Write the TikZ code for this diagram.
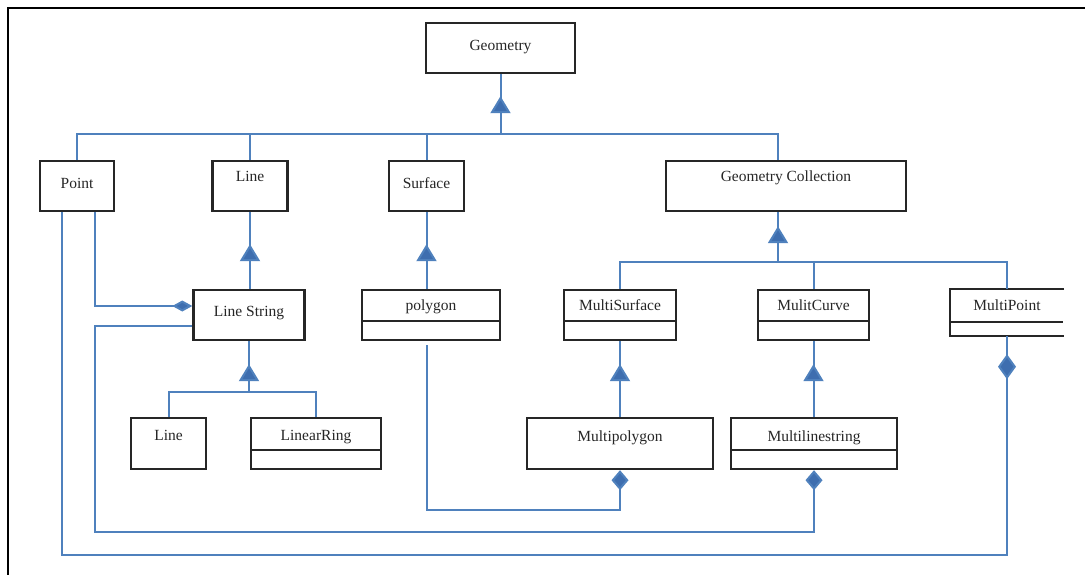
\documentclass[tikz,border=0pt]{standalone}
\usepackage{fontspec}
\setmainfont{Liberation Serif}
\usetikzlibrary{arrows.meta,decorations.markings}

\definecolor{umlblue}{RGB}{79,129,189}
\definecolor{tipblue}{RGB}{62,110,175}

\begin{document}
\begin{tikzpicture}[
  x=1pt, y=-1pt,
  font=\fontsize{15.5}{18}\selectfont,
  cls/.style={draw=black!85, line width=2.4pt, minimum width=#1, minimum height=50pt, inner sep=0pt, text height=11pt, text depth=6pt, text=black!85},
  uppertext/.style={text depth=#1},
  divided/.style={path picture={\draw[line width=1.6pt, black!85] ([yshift=-#1]path picture bounding box.north west) -- ([yshift=-#1]path picture bounding box.north east);}},
  link/.style={draw=umlblue, line width=2pt},
  agg/.style={link, -{Diamond[length=20pt, width=#1, fill=tipblue]}},
  aggmid/.style={link, postaction={decorate}, decoration={markings, mark=at position -#1 with {\arrow{Diamond[length=25pt, width=18pt, fill=tipblue]}}}},
  gen/.style={link, postaction={decorate}, decoration={markings, mark=at position -#1 with {\arrow{Triangle[length=17pt, width=20pt, fill=tipblue]}}}}
]
\useasboundingbox (0,0) rectangle (1085,575);
\draw[line width=2pt, black] (8,575) -- (8,8) -- (1085,8);

% classes
\node[cls=149] (geom) at (500.5,48) {Geometry};
\node[cls=74] (point) at (77,186) {Point};
\node[cls=75, uppertext=19pt] (line) at (250,186) {Line};
\node[cls=75] (surface) at (426.5,186) {Surface};
\node[cls=240, uppertext=19pt] (gcoll) at (786,186) {Geometry Collection};
\node[cls=111, uppertext=9pt] (lstring) at (249,315) {Line String};
\node[cls=138, uppertext=21pt, divided=31pt] (polygon) at (431,315) {polygon};
\node[cls=112, uppertext=21pt, divided=31pt] (msurf) at (620,315) {MultiSurface};
\node[cls=111, uppertext=21pt, divided=31pt] (mcurve) at (813.5,315) {MulitCurve};
\node[cls=112, draw=none, minimum height=45pt, uppertext=16pt, divided=32pt] (mpoint) at (1007,312.5) {MultiPoint};
\draw[line width=2.4pt, black!85] (mpoint.north east) -- (mpoint.north west) -- (mpoint.south west) -- (mpoint.south east);
\node[cls=75, minimum height=51pt, uppertext=18pt] (line2) at (168.5,443.5) {Line};
\node[cls=130, minimum height=51pt, uppertext=18pt, divided=32pt] (lring) at (316,443.5) {LinearRing};
\node[cls=186, minimum height=51pt, uppertext=16pt] (mpoly) at (620,443.5) {Multipolygon};
\node[cls=166, minimum height=51pt, uppertext=16pt, divided=32pt] (mlstr) at (814,443.5) {Multilinestring};

% generalisation
\coordinate (bus) at (500.5,134);
\draw[gen=22pt] (bus) -- (geom.south);
\draw[link] (point.north) |- (bus) -| ([xshift=-8pt]gcoll.north);
\draw[link] (line.north) -- (line.north |- bus);
\draw[link] (surface.north) -- (surface.north |- bus);
\draw[gen=32pt] (lstring.north -| line.south) -- (line.south);
\draw[gen=32pt] (polygon.north -| surface.south) -- (surface.south);

\coordinate (cbus) at (778,262);
\draw[gen=14pt] (cbus) -- (cbus |- gcoll.south);
\draw[link] (msurf.north) |- (cbus) -| (mpoint.north);
\draw[link] (mcurve.north) -- (mcurve.north |- cbus);
\draw[gen=23pt] (mpoly.north -| msurf.south) -- (msurf.south);
\draw[gen=23pt] (mlstr.north -| mcurve.south) -- (mcurve.south);

\coordinate (sbus) at (249,392);
\draw[gen=23pt] (sbus) -- (sbus |- lstring.south);
\draw[link] (line2.north) |- (sbus) -| (lring.north);

% aggregation
\draw[agg=11pt] ([xshift=18pt]point.south) |- ([yshift=9pt]lstring.west);
\draw[agg=17pt] ([xshift=-4pt,yshift=-4pt]polygon.south) -- (427,510) -| (mpoly.south);
\draw[agg=17pt] ([yshift=-11pt]lstring.west) -| (95,532) -| (mlstr.south);
\draw[aggmid=18pt] ([xshift=-15pt]point.south) |- (1007,555) -- (mpoint.south);
\end{tikzpicture}
\end{document}
